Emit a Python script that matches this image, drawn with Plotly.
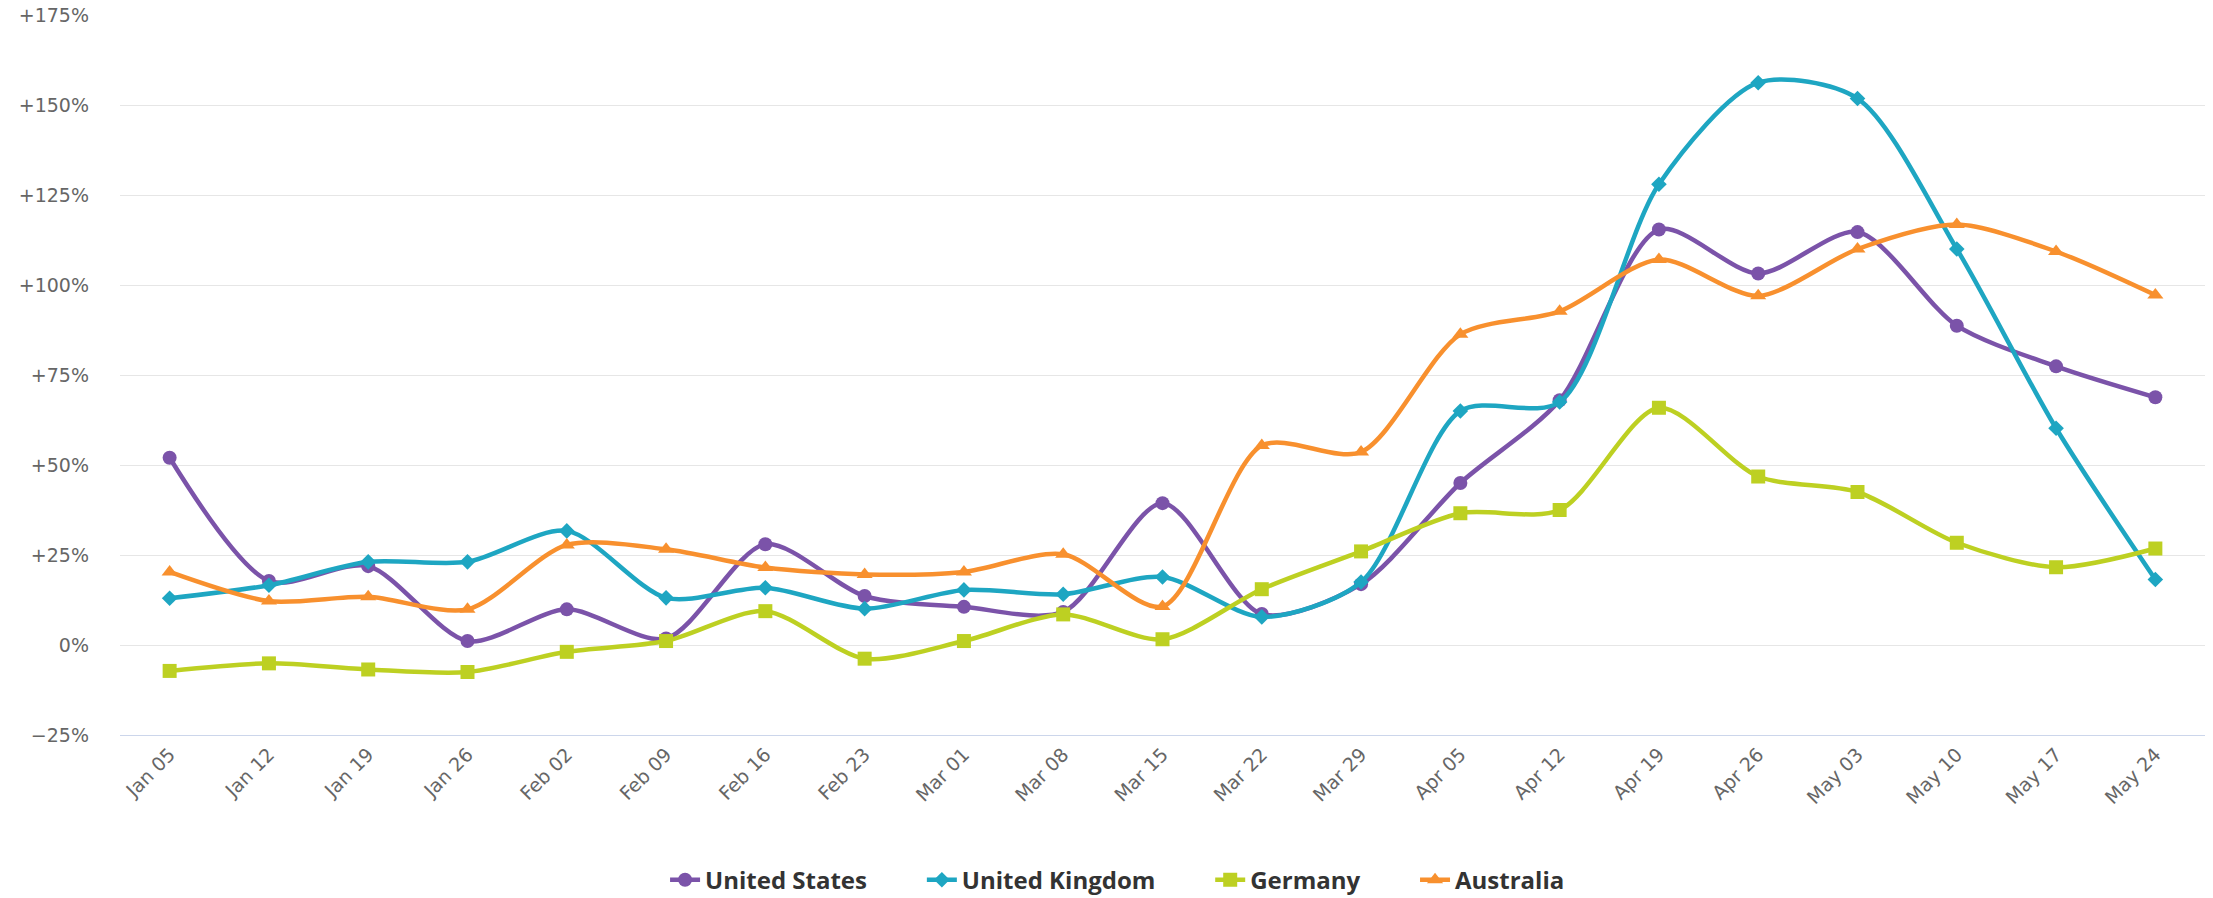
import plotly.graph_objects as go

# Weekly change vs. baseline, by country
weeks = ["Jan 05", "Jan 12", "Jan 19", "Jan 26", "Feb 02", "Feb 09", "Feb 16",
         "Feb 23", "Mar 01", "Mar 08", "Mar 15", "Mar 22", "Mar 29", "Apr 05",
         "Apr 12", "Apr 19", "Apr 26", "May 03", "May 10", "May 17", "May 24"]

united_states = [52.0, 17.8, 21.9, 1.1, 9.9, 1.8, 28.0, 13.6, 10.6, 9.2, 39.4,
                 8.6, 16.9, 45.0, 68.0, 115.4, 103.2, 114.7, 88.7, 77.4, 68.8]
united_kingdom = [13.0, 16.6, 23.1, 23.1, 31.7, 13.1, 15.9, 10.1, 15.3, 14.1, 18.9,
                  7.8, 17.5, 65.0, 67.5, 128.0, 156.2, 151.8, 110.0, 60.2, 18.2]
germany = [-7.2, -5.1, -6.8, -7.5, -1.9, 1.1, 9.4, -3.8, 1.1, 8.5, 1.6,
           15.5, 26.0, 36.6, 37.5, 65.9, 46.8, 42.5, 28.4, 21.6, 26.8]
australia = [20.3, 12.2, 13.4, 9.9, 27.8, 26.6, 21.5, 19.6, 20.3, 25.2, 10.7,
             55.4, 53.6, 86.3, 92.7, 107.1, 97.0, 110.0, 116.8, 109.3, 97.2]

y_ticks = [-25, 0, 25, 50, 75, 100, 125, 150, 175]
y_tick_labels = ["\u221225%", "0%", "+25%", "+50%", "+75%", "+100%", "+125%", "+150%", "+175%"]

series = [
    ("United States", united_states, "#7b53a9", "circle", 14),
    ("United Kingdom", united_kingdom, "#1ea6c2", "diamond", 12),
    ("Germany", germany, "#bdd022", "square", 14),
    ("Australia", australia, "#f8902e", "triangle-up", 14),
]

# a little trailing room after each legend entry
legend_pad = "\u00a0" * 8

fig = go.Figure()
for i, (name, values, color, symbol, size) in enumerate(series):
    fig.add_trace(go.Scatter(
        x=list(range(len(weeks))),
        y=values,
        name=name + (legend_pad if i < len(series) - 1 else ""),
        mode="lines+markers",
        line=dict(color=color, width=4.5, shape="spline", smoothing=0.8),
        marker=dict(symbol=symbol, size=size, color=color),
    ))

fig.update_layout(
    width=2213,
    height=898,
    margin=dict(l=120, r=8, t=15, b=163, autoexpand=False),
    paper_bgcolor="white",
    plot_bgcolor="white",
    showlegend=True,
    legend=dict(
        orientation="h",
        xref="container",
        x=0.505,
        xanchor="center",
        yref="container",
        y=0.045,
        yanchor="top",
        font=dict(family="Open Sans", size=24, color="#333333", weight="bold"),
    ),
    xaxis=dict(
        range=[-0.5, len(weeks) - 0.5],
        tickmode="array",
        tickvals=list(range(len(weeks))),
        ticktext=weeks,
        tickangle=-45,
        tickfont=dict(family="DejaVu Sans", size=19, color="#666666"),
        showgrid=False,
        zeroline=False,
        showline=True,
        linecolor="#ccd6eb",
        linewidth=1,
        ticks="",
        automargin=False,
    ),
    yaxis=dict(
        range=[-25, 175],
        tickmode="array",
        tickvals=y_ticks,
        ticktext=y_tick_labels,
        tickfont=dict(family="DejaVu Sans", size=19, color="#666666"),
        showgrid=True,
        gridcolor="#e6e6e6",
        gridwidth=1,
        zeroline=False,
        ticks="",
        ticklabelstandoff=30,
        automargin=False,
    ),
)

fig.write_html("out.html")
